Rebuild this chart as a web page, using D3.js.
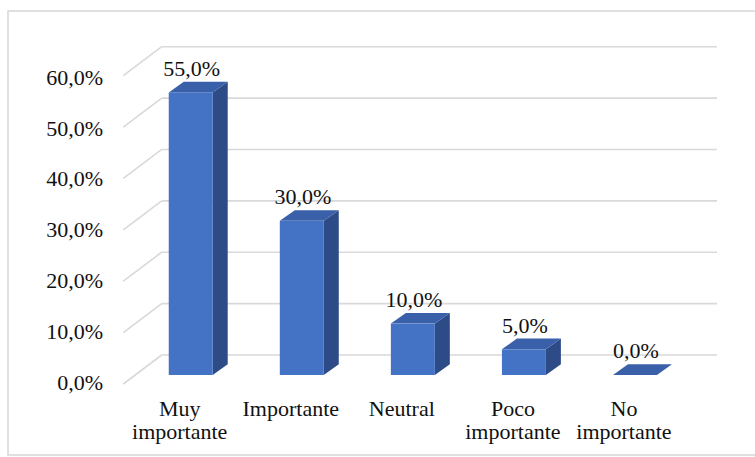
<!DOCTYPE html>
<html>
<head>
<meta charset="utf-8">
<script src="https://cdn.jsdelivr.net/npm/d3@7"></script>
</head>
<body style="margin:0;background:#fff">
<svg id="chart" width="755" height="457" style="display:block"></svg>
<script>
// Importance ratings (share of respondents)
const categories = [["Muy", "importante"], ["Importante"], ["Neutral"], ["Poco", "importante"], ["No", "importante"]];
const values = [0.55, 0.30, 0.10, 0.05, 0.0];
const valueLabels = ["55,0%", "30,0%", "10,0%", "5,0%", "0,0%"];
const tickValues = [0, 0.1, 0.2, 0.3, 0.4, 0.5, 0.6];
const tickLabels = ["0,0%", "10,0%", "20,0%", "30,0%", "40,0%", "50,0%", "60,0%"];

const svg = d3.select("#chart");
const FS = 22;
const TEXT_COLOR = "#111";

// serif text helper
const serif = sel => sel
  .style("font-family", "\"Liberation Serif\"")
  .attr("font-size", FS)
  .attr("fill", TEXT_COLOR);

// chart frame
svg.append("rect")
  .attr("x", 8).attr("y", 11)
  .attr("width", 800).attr("height", 444)
  .attr("fill", "none")
  .attr("stroke", "#d9d9d9")
  .attr("stroke-width", 1.6);

// oblique projection: back wall plane and bar planes
const wallDepth = { dx: 38.4, dy: -29 };
const barDepth = { dx: 15, dy: -10.7 };

const yBack = d3.scaleLinear().domain([0, 0.6]).range([355, 46.7]);
const wallLeft = 161.7, wallRight = 717;
const barBase = 375; // baseline of bar front faces
const barScale = v => barBase - (yBack(0) - yBack(v));

const x = d3.scaleBand()
  .domain(d3.range(categories.length))
  .range([135.2, 690.5])
  .paddingInner(0.604)
  .paddingOuter(0.302);

// gridlines: back wall horizontals + side wall diagonals
const grid = svg.append("g").attr("stroke", "#d9d9d9").attr("stroke-width", 1.6).attr("fill", "none");
grid.selectAll("line.h").data(tickValues).join("line")
  .attr("class", "h")
  .attr("x1", wallLeft).attr("x2", wallRight)
  .attr("y1", d => yBack(d)).attr("y2", d => yBack(d));
grid.selectAll("line.d").data(tickValues).join("line")
  .attr("class", "d")
  .attr("x1", wallLeft - wallDepth.dx).attr("y1", d => yBack(d) - wallDepth.dy)
  .attr("x2", wallLeft).attr("y2", d => yBack(d));

// y tick labels at the front edge of the side wall
svg.append("g").selectAll("text").data(tickValues).join("text")
  .call(serif)
  .attr("x", 103)
  .attr("y", d => yBack(d) - wallDepth.dy + 6 + (d / 0.6) * 3)
  .attr("text-anchor", "end")
  .text((d, i) => tickLabels[i]);

// 3D bars
const bars = svg.append("g").selectAll("g").data(values).join("g");
const bw = x.bandwidth();
bars.append("path") // side face
  .attr("fill", "#2d4c87")
  .attr("d", (v, i) => {
    const x1 = x(i) + bw, yt = barScale(v);
    return `M${x1},${barBase} L${x1 + barDepth.dx},${barBase + barDepth.dy} L${x1 + barDepth.dx},${yt + barDepth.dy} L${x1},${yt} Z`;
  });
bars.append("path") // top face
  .attr("fill", "#3a60a9")
  .attr("d", (v, i) => {
    const x0 = x(i), yt = barScale(v);
    return `M${x0},${yt} L${x0 + bw},${yt} L${x0 + bw + barDepth.dx},${yt + barDepth.dy} L${x0 + barDepth.dx},${yt + barDepth.dy} Z`;
  });
bars.append("rect") // front face
  .attr("fill", "#4472c4")
  .attr("x", (v, i) => x(i))
  .attr("width", bw)
  .attr("y", v => barScale(v))
  .attr("height", v => barBase - barScale(v));

// value labels
bars.append("text")
  .call(serif)
  .attr("x", (v, i) => x(i) + bw / 2 + 1)
  .attr("y", v => barScale(v) + barDepth.dy - 6)
  .attr("text-anchor", "middle")
  .text((v, i) => valueLabels[i]);

// category labels
const cat = svg.append("g").selectAll("text").data(categories).join("text")
  .call(serif)
  .attr("x", (d, i) => x(i) + bw / 2 - 11)
  .attr("y", 416)
  .attr("text-anchor", "middle");
cat.selectAll("tspan").data(d => d).join("tspan")
  .attr("x", function () { return d3.select(this.parentNode).attr("x"); })
  .attr("dy", (d, j) => j === 0 ? 0 : 23)
  .text(d => d);
</script>
</body>
</html>
